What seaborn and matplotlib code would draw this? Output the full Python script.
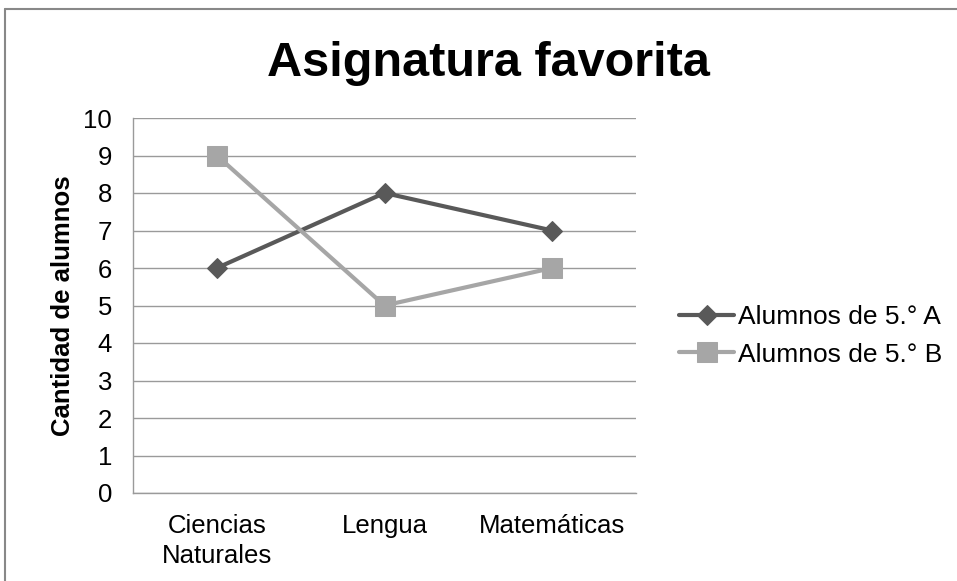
import matplotlib
matplotlib.use("Agg")
import matplotlib.pyplot as plt
import seaborn as sns
import pandas as pd
from matplotlib.lines import Line2D

categories = ["Ciencias\nNaturales", "Lengua", "Matemáticas"]
serie_a = [6, 8, 7]
serie_b = [9, 5, 6]
series_names = ["Alumnos de 5.° A", "Alumnos de 5.° B"]
y_ticks = list(range(0, 11))

sns.set_style("white")
plt.rcParams['font.family'] = ['Liberation Sans', 'DejaVu Sans']
plt.rcParams['text.color'] = 'black'

df = pd.DataFrame({
    "cat": categories * 2,
    "val": serie_a + serie_b,
    "serie": [series_names[0]] * 3 + [series_names[1]] * 3,
})

fig = plt.figure(figsize=(9.57, 5.81), dpi=100)
ax = fig.add_axes([133/957, 1 - 493/581, (636-133)/957, (493-118)/581])

colors = {series_names[0]: "#595959", series_names[1]: "#A6A6A6"}
markers = {series_names[0]: "D", series_names[1]: "s"}
sizes = {series_names[0]: 10.5, series_names[1]: 14}

for name in series_names:
    sub = df[df["serie"] == name]
    sns.lineplot(data=sub, x="cat", y="val", ax=ax, color=colors[name],
                 marker=markers[name], markersize=sizes[name], linewidth=3,
                 markeredgecolor=colors[name], label=name, sort=False)

ax.set_xlim(-0.5, 2.5)
ax.set_ylim(0, 10)
ax.set_yticks(y_ticks)
ax.yaxis.grid(True, color="#9a9a9a", linewidth=1)
ax.set_axisbelow(True)
for s in ["top", "right"]:
    ax.spines[s].set_visible(False)
for s in ["left", "bottom"]:
    ax.spines[s].set_color("#9a9a9a")
    ax.spines[s].set_linewidth(1)
ax.tick_params(axis="both", length=0, labelsize=18.5, colors="black")
ax.tick_params(axis="x", pad=15)
ax.tick_params(axis="y", pad=15)
for lbl in ax.get_xticklabels():
    lbl.set_linespacing(1.3)
ax.set_xlabel("")
ax.set_ylabel("Cantidad de alumnos", fontsize=18.5, fontweight="bold", labelpad=6,
              color="black")

fig.suptitle("Asignatura favorita", x=488/957, y=1 - 63/581, va="center",
             fontsize=35, fontweight="bold", color="black")

handles, labels = ax.get_legend_handles_labels()
if ax.legend_:
    ax.legend_.remove()
fig.legend(handles, labels, loc="center left", bbox_to_anchor=(671/957, 1 - 336/581),
           frameon=False, fontsize=19, handlelength=2.1, handletextpad=0.15,
           labelspacing=0.5, borderaxespad=0, borderpad=0.3)

fig.add_artist(Line2D([5/957, 1], [1 - 9/581, 1 - 9/581], color="#888888", linewidth=1.5))
fig.add_artist(Line2D([5/957, 5/957], [0, 1 - 9/581], color="#888888", linewidth=1.5))

fig.savefig("out.png", dpi=100)
